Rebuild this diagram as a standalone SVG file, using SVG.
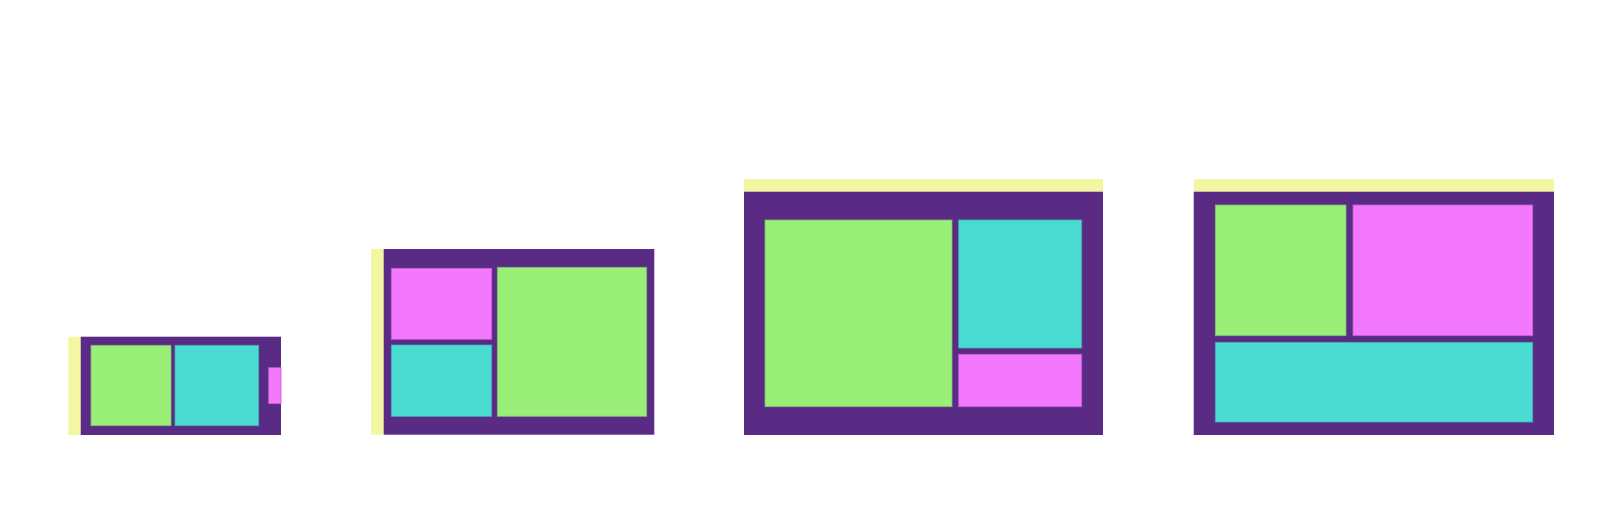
<svg xmlns="http://www.w3.org/2000/svg" width="1622" height="510" viewBox="0 0 1622 510">
<style>
.y{fill:#f3f7a1}
.p{fill:#5a2b85}
.g{fill:#9aef79;stroke:#7fb86f;stroke-width:0.8}
.c{fill:#4adcd2;stroke:#48a8b0;stroke-width:0.8}
.k{fill:#f478fd;stroke:#c060d0;stroke-width:0.8}
</style>
<rect width="1622" height="510" fill="#ffffff"/>
<g id="panel1">
<rect class="y" x="68.3" y="336.7" width="12.4" height="98.3"/>
<rect class="p" x="80.7" y="336.7" width="200.3" height="98.3"/>
<rect class="g" x="91" y="345.3" width="80" height="80.4"/>
<rect class="c" x="175" y="345.3" width="83.7" height="80.4"/>
<rect class="k" x="268.7" y="367.7" width="12.3" height="36"/>
</g>
<g id="panel2">
<rect class="y" x="371" y="249" width="12.7" height="185.7"/>
<rect class="p" x="383.7" y="249" width="270.6" height="185.7"/>
<rect class="k" x="391.3" y="268.3" width="100.4" height="71"/>
<rect class="c" x="391.3" y="345" width="100.4" height="71.3"/>
<rect class="g" x="497.3" y="267.3" width="149.4" height="149"/>
</g>
<g id="panel3">
<rect class="y" x="744" y="179" width="359" height="12.7"/>
<rect class="p" x="744" y="191.7" width="359" height="243.3"/>
<rect class="g" x="765" y="220" width="187" height="186.7"/>
<rect class="c" x="958.7" y="220" width="123" height="128"/>
<rect class="k" x="958.7" y="354.3" width="123" height="52.4"/>
</g>
<g id="panel4">
<rect class="y" x="1193.7" y="179" width="360.3" height="12.7"/>
<rect class="p" x="1193.7" y="191.7" width="360.3" height="243.3"/>
<rect class="g" x="1215.3" y="205" width="130.7" height="130.7"/>
<rect class="k" x="1353" y="205" width="179.7" height="130.7"/>
<rect class="c" x="1215.3" y="342.3" width="317.4" height="79.7"/>
</g>
<g id="connectors"/>
</svg>
